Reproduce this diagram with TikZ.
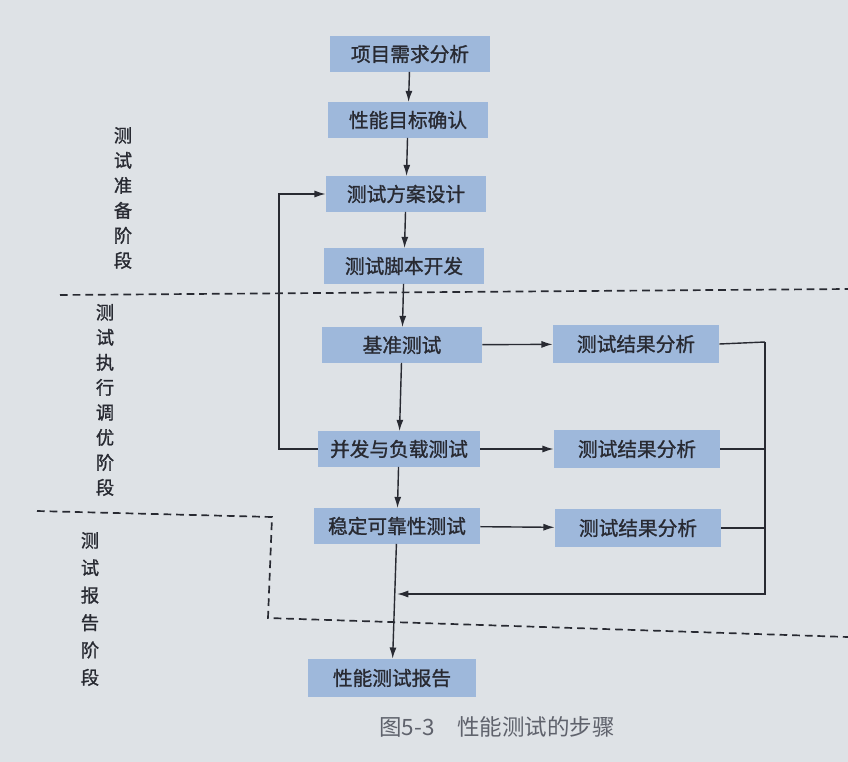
\documentclass[tikz,border=0pt]{standalone}
\usepackage{fontspec}
\newfontfamily\cjk{Noto Sans CJK SC}
\newfontfamily\cjkbold[FakeBold=1.2]{Noto Sans CJK SC}
\usetikzlibrary{arrows.meta}
\definecolor{paper}{RGB}{222,226,230}
\definecolor{boxblue}{RGB}{158,184,219}
\definecolor{ink}{RGB}{40,42,50}
\definecolor{capgray}{RGB}{95,98,108}
\tikzset{
  stepbox/.style={fill=boxblue, text=ink, inner sep=0pt, minimum width=4cm, minimum height=0.88cm, font=\cjkbold\fontsize{14}{16}\selectfont},
  resbox/.style={stepbox, minimum width=4.15cm, minimum height=0.95cm},
  stage/.style={text=ink, align=center, inner sep=0pt, font=\cjkbold\fontsize{13}{17.8}\selectfont},
  link/.style={ink, line width=1pt, -{Latex[length=8pt,width=5pt]}},
  wire/.style={ink, line width=1pt},
  border/.style={ink, line width=1.2pt, dash pattern=on 5.5pt off 3.5pt}
}
\begin{document}
\begin{tikzpicture}[x=0.025cm, y=-0.025cm]
  \fill[paper] (0,0) rectangle (848,762);
  \useasboundingbox (0,0) rectangle (848,762);

  % phase borders
  \draw[border] (60,295) -- (848,289);
  \draw[border] (37,511) -- (272,517) -- (268,618) -- (848,637);

  % steps
  \node[stepbox] (need) at (410,54) {项目需求分析};
  \node[stepbox] (goal) at (408,120) {性能目标确认};
  \node[stepbox] (plan) at (406,194) {测试方案设计};
  \node[stepbox] (script) at (404,266) {测试脚本开发};
  \node[stepbox] (base) at (402,345) {基准测试};
  \node[stepbox, minimum width=4.05cm] (load) at (399,449) {并发与负载测试};
  \node[stepbox, minimum width=4.15cm] (stable) at (397,526) {稳定可靠性测试};
  \node[stepbox, minimum width=4.2cm, minimum height=0.95cm] (report) at (392,678) {性能测试报告};

  \node[resbox] (resA) at (636,344) {测试结果分析};
  \node[resbox] (resB) at (637,449) {测试结果分析};
  \node[resbox] (resC) at (638,528) {测试结果分析};

  % phase labels
  \node[stage] (prep) at (123,198) {测\\试\\准\\备\\阶\\段};
  \node[stage] (exec) at (105,400) {测\\试\\执\\行\\调\\优\\阶\\段};
  \node[stage, font=\cjkbold\fontsize{13}{19.5}\selectfont] (rep) at (90,609) {测\\试\\报\\告\\阶\\段};

  % flow
  \draw[link] (need) -- (goal);
  \draw[link] (goal) -- (plan);
  \draw[link] (plan) -- (script);
  \draw[link] (script) -- (base);
  \draw[link] (base) -- (load);
  \draw[link] (load) -- (stable);
  \draw[link] (stable) -- (report);

  \draw[link] (base) -- (resA);
  \draw[link] (load) -- (resB);
  \draw[link] (stable) -- (resC);

  % feedback to plan
  \coordinate (back) at (279,449);
  \draw[link] (load.west) -- (back) |- (plan.west);

  % results collected
  \coordinate (top) at (765,342);
  \coordinate (bottom) at (765,594);
  \coordinate (join) at (397,594);
  \draw[wire] (resA.east) -- (top);
  \draw[wire] (resB.east) -- (resB.east -| top);
  \draw[wire] (resC.east) -- (resC.east -| top);
  \draw[link] (top) -- (bottom) -- (join);

  \node[text=capgray, font=\cjk\fontsize{16}{18}\selectfont] (cap) at (497,727) {图5-3\quad 性能测试的步骤};
\end{tikzpicture}
\end{document}
